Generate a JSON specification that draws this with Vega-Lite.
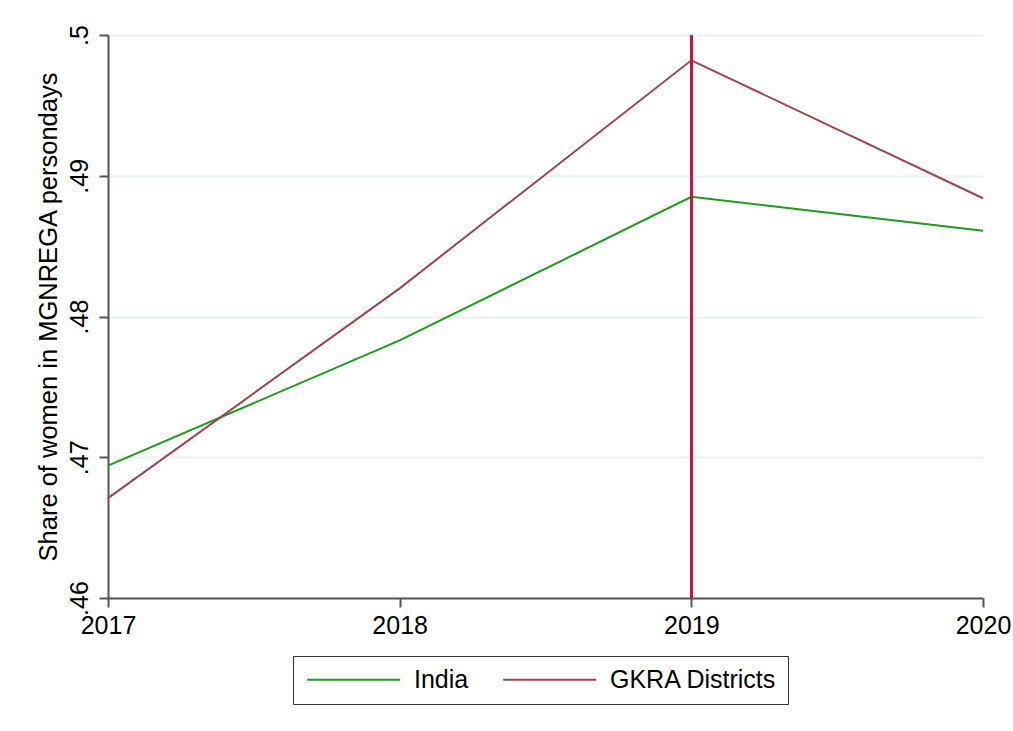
{
  "$schema": "https://vega.github.io/schema/vega-lite/v6.json",
  "width": 875,
  "height": 563,
  "autosize": {"type": "none"},
  "padding": {"left": 108, "top": 35, "right": 30, "bottom": 133},
  "background": "white",
  "config": {
    "font": "Liberation Sans",
    "view": {"stroke": null},
    "axis": {
      "labelFont": "Liberation Sans",
      "titleFont": "Liberation Sans",
      "labelFontSize": 25,
      "titleFontSize": 25.5,
      "titleFontWeight": "normal",
      "labelColor": "black",
      "titleColor": "black",
      "domainColor": "#555555",
      "tickColor": "#555555",
      "domainWidth": 2,
      "tickWidth": 2,
      "tickSize": 9
    }
  },
  "data": {
    "values": [
      {"year": 2017, "series": "India", "share": 0.4694},
      {"year": 2018, "series": "India", "share": 0.4783},
      {"year": 2019, "series": "India", "share": 0.4885},
      {"year": 2020, "series": "India", "share": 0.4861},
      {"year": 2017, "series": "GKRA Districts", "share": 0.4671},
      {"year": 2018, "series": "GKRA Districts", "share": 0.4820},
      {"year": 2019, "series": "GKRA Districts", "share": 0.4982},
      {"year": 2020, "series": "GKRA Districts", "share": 0.4884}
    ]
  },
  "layer": [
    {
      "mark": {"type": "line", "strokeWidth": 2},
      "encoding": {
        "x": {
          "field": "year",
          "type": "quantitative",
          "scale": {"domain": [2017, 2020], "nice": false, "zero": false},
          "axis": {
            "values": [2017, 2018, 2019, 2020],
            "format": "d",
            "title": null,
            "grid": false,
            "labelPadding": 6,
            "labelFlush": false
          }
        },
        "y": {
          "field": "share",
          "type": "quantitative",
          "scale": {"domain": [0.46, 0.5], "nice": false, "zero": false},
          "axis": {
            "values": [0.46, 0.47, 0.48, 0.49, 0.5],
            "labelExpr": "substring(format(datum.value, '.2~f'), 1)",
            "labelAngle": 270,
            "labelAlign": "center",
            "labelBaseline": "bottom",
            "labelPadding": 7,
            "title": "Share of women in MGNREGA persondays",
            "titlePadding": 6,
            "grid": true,
            "gridColor": "#eaf2f3",
            "gridWidth": 2
          }
        },
        "color": {
          "field": "series",
          "type": "nominal",
          "scale": {"domain": ["India", "GKRA Districts"], "range": ["#1e9a1e", "#9b4550"]},
          "legend": {
            "title": null,
            "orient": "none",
            "legendX": 185,
            "legendY": 621,
            "direction": "horizontal",
            "symbolType": "M-1,0H9",
            "symbolSize": 346,
            "symbolStrokeWidth": 2,
            "labelFontSize": 25,
            "labelFont": "Liberation Sans",
            "labelColor": "black",
            "labelOffset": 85,
            "columnPadding": 30,
            "padding": 11,
            "fillColor": "white",
            "strokeColor": "#333333",
            "labelLimit": 300
          }
        }
      }
    },
    {
      "mark": {"type": "rule", "color": "#c8143c", "strokeWidth": 2},
      "encoding": {
        "x": {"datum": 2019, "type": "quantitative"}
      }
    }
  ]
}
